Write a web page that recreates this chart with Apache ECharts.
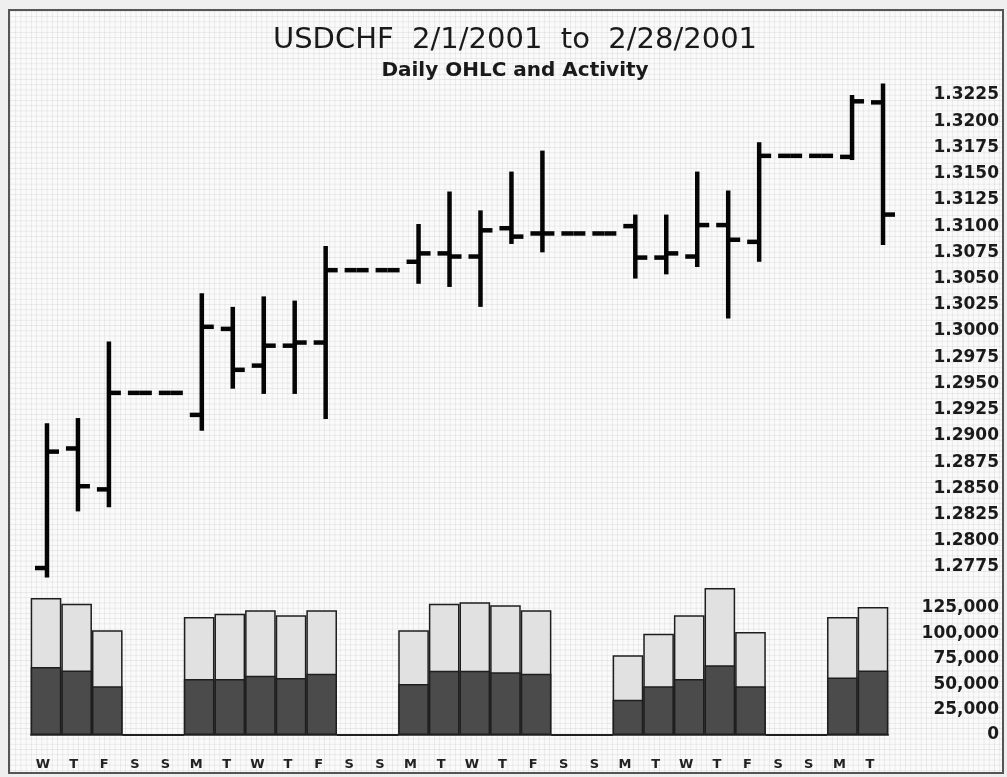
<!DOCTYPE html>
<html>
<head>
<meta charset="utf-8">
<script src="https://cdn.jsdelivr.net/npm/echarts@6/dist/echarts.min.js"></script>
<style>
  html, body { margin: 0; padding: 0; background: #efefef; }
  #wrap { position: relative; width: 1007px; height: 777px; overflow: hidden; }
  #paper {
    position: absolute; left: 8px; top: 9px; width: 992px; height: 761px;
    border: 2px solid #555;
    background-color: #fafafa;
    background-image:
      linear-gradient(to right, rgba(0,0,0,0.065) 1px, transparent 1px),
      linear-gradient(to bottom, rgba(0,0,0,0.065) 1px, transparent 1px);
    background-size: 5.24px 5.24px;
  }
  #chart { position: absolute; left: 0; top: 0; width: 1007px; height: 777px; }
</style>
</head>
<body>
<div id="wrap">
  <div id="paper"></div>
  <div id="chart"></div>
</div>
<script>
// ---- data ----
const dayLabels = ['W','T','F','S','S','M','T','W','T','F','S','S','M','T',
                   'W','T','F','S','S','M','T','W','T','F','S','S','M','T'];

const opens  = [1.2774, 1.2888, 1.2849, 1.2941, 1.2941, 1.2920, 1.3002, 1.2967, 1.2986, 1.2989,
                1.3058, 1.3058, 1.3066, 1.3074, 1.3071, 1.3098, 1.3093, 1.3093, 1.3093, 1.3100,
                1.3070, 1.3071, 1.3101, 1.3085, 1.3167, 1.3167, 1.3166, 1.3218];
const highs  = [1.2912, 1.2917, 1.2990, 1.2941, 1.2941, 1.3036, 1.3023, 1.3033, 1.3029, 1.3081,
                1.3058, 1.3058, 1.3102, 1.3133, 1.3115, 1.3152, 1.3172, 1.3093, 1.3093, 1.3111,
                1.3111, 1.3152, 1.3134, 1.3180, 1.3167, 1.3167, 1.3225, 1.3236];
const lows   = [1.2765, 1.2828, 1.2832, 1.2941, 1.2941, 1.2905, 1.2945, 1.2940, 1.2940, 1.2916,
                1.3058, 1.3058, 1.3045, 1.3042, 1.3023, 1.3083, 1.3075, 1.3093, 1.3093, 1.3050,
                1.3054, 1.3061, 1.3012, 1.3066, 1.3167, 1.3167, 1.3163, 1.3082];
const closes = [1.2885, 1.2852, 1.2941, 1.2941, 1.2941, 1.3004, 1.2963, 1.2986, 1.2989, 1.3058,
                1.3058, 1.3058, 1.3074, 1.3071, 1.3096, 1.3090, 1.3093, 1.3093, 1.3093, 1.3070,
                1.3074, 1.3101, 1.3087, 1.3167, 1.3167, 1.3167, 1.3219, 1.3111];

const volTotal = [134800, 129200, 103000, 0, 0, 116100, 119400, 122700, 117800, 122700,
                  0, 0, 103000, 129200, 130600, 127600, 122700, 0, 0, 78400,
                  99700, 117800, 144600, 101400, 0, 0, 116100, 126000];
const volDark  = [66900, 63600, 47900, 0, 0, 55100, 55100, 58400, 56100, 60300,
                  0, 0, 50200, 63300, 63300, 61700, 60300, 0, 0, 34700,
                  47900, 55100, 68600, 47900, 0, 0, 56700, 63600];

// axis tick settings
const priceMin = 1.2750, priceMax = 1.3250, priceStep = 0.0025;
const priceLabelMin = 1.2775, priceLabelMax = 1.3225;
const volMin = 0, volMax = 150000, volStep = 25000, volLabelMax = 125000;

const titleText = 'USDCHF  2/1/2001  to  2/28/2001';
const subtitleText = 'Daily OHLC and Activity';

// ---- chart ----
const FONT = 'DejaVu Sans';
const ohlcData = dayLabels.map((d, i) => [i, opens[i], highs[i], lows[i], closes[i]]);

function renderOHLC(params, api) {
  const i = api.value(0);
  const o = api.coord([i, api.value(1)]);
  const h = api.coord([i, api.value(2)]);
  const l = api.coord([i, api.value(3)]);
  const c = api.coord([i, api.value(4)]);
  const x = h[0];
  const tick = 12;
  const st = { stroke: '#050505', lineWidth: 4.5, lineCap: 'butt' };
  const children = [];
  if (Math.abs(l[1] - h[1]) > 0.5) {
    children.push({ type: 'line', shape: { x1: x, y1: h[1], x2: x, y2: l[1] }, style: st });
  }
  children.push({ type: 'line', shape: { x1: x - tick, y1: o[1], x2: x, y2: o[1] }, style: st });
  children.push({ type: 'line', shape: { x1: x, y1: c[1], x2: x + tick, y2: c[1] }, style: st });
  return { type: 'group', children };
}

function fmtThousands(v) {
  return String(Math.round(v)).replace(/\B(?=(\d{3})+(?!\d))/g, ',');
}

const chart = echarts.init(document.getElementById('chart'), null, { renderer: 'canvas' });
chart.setOption({
  backgroundColor: 'transparent',
  animation: false,
  title: [
    { text: titleText, left: 510, top: 21, textAlign: 'center',
      textStyle: { fontFamily: FONT, fontSize: 29, fontWeight: 'normal', color: '#1a1a1a' } },
    { text: subtitleText, left: 510, top: 56, textAlign: 'center',
      textStyle: { fontFamily: FONT, fontSize: 20, fontWeight: 'bold', color: '#1a1a1a' } }
  ],
  grid: [
    { left: 31.5, top: 68.8, width: 867, height: 524.4 },
    { left: 30.7, top: 582.6, width: 857.6, height: 152.4 }
  ],
  xAxis: [
    { type: 'category', gridIndex: 0, data: dayLabels, boundaryGap: true, show: false },
    { type: 'category', gridIndex: 1, data: dayLabels, boundaryGap: true,
      axisLine: { show: true, lineStyle: { color: '#222', width: 1.5 } },
      axisTick: { show: false },
      splitLine: { show: false },
      axisLabel: { interval: 0, margin: 23, padding: [0, 6, 0, 0],
        fontFamily: FONT, fontSize: 13, fontWeight: 'bold', color: '#222' } }
  ],
  yAxis: [
    { type: 'value', gridIndex: 0, position: 'right', min: priceMin, max: priceMax, interval: priceStep,
      axisLine: { show: false }, axisTick: { show: false }, splitLine: { show: false },
      axisLabel: { margin: 100.5, align: 'right', fontFamily: FONT, fontSize: 17, fontWeight: 'bold', color: '#1a1a1a',
        formatter: v => (v < priceLabelMin - 1e-6 || v > priceLabelMax + 1e-6) ? '' : v.toFixed(4) } },
    { type: 'value', gridIndex: 1, position: 'right', min: volMin, max: volMax, interval: volStep,
      axisLine: { show: false }, axisTick: { show: false }, splitLine: { show: false },
      axisLabel: { margin: 110.7, align: 'right', fontFamily: FONT, fontSize: 17, fontWeight: 'bold', color: '#1a1a1a',
        formatter: v => v > volLabelMax ? '' : fmtThousands(v) } }
  ],
  series: [
    { type: 'custom', xAxisIndex: 0, yAxisIndex: 0, data: ohlcData,
      encode: { x: 0, y: [1, 2, 3, 4] }, renderItem: renderOHLC, clip: false },
    { type: 'bar', xAxisIndex: 1, yAxisIndex: 1, data: volTotal, barWidth: '100%', barGap: '-100%',
      itemStyle: { color: '#e1e1e1', borderColor: '#1e1e1e', borderWidth: 1.5 } },
    { type: 'bar', xAxisIndex: 1, yAxisIndex: 1, data: volDark, barWidth: '100%', barGap: '-100%',
      itemStyle: { color: '#4b4b4b', borderColor: '#1e1e1e', borderWidth: 1.5 } }
  ]
});
</script>
</body>
</html>
